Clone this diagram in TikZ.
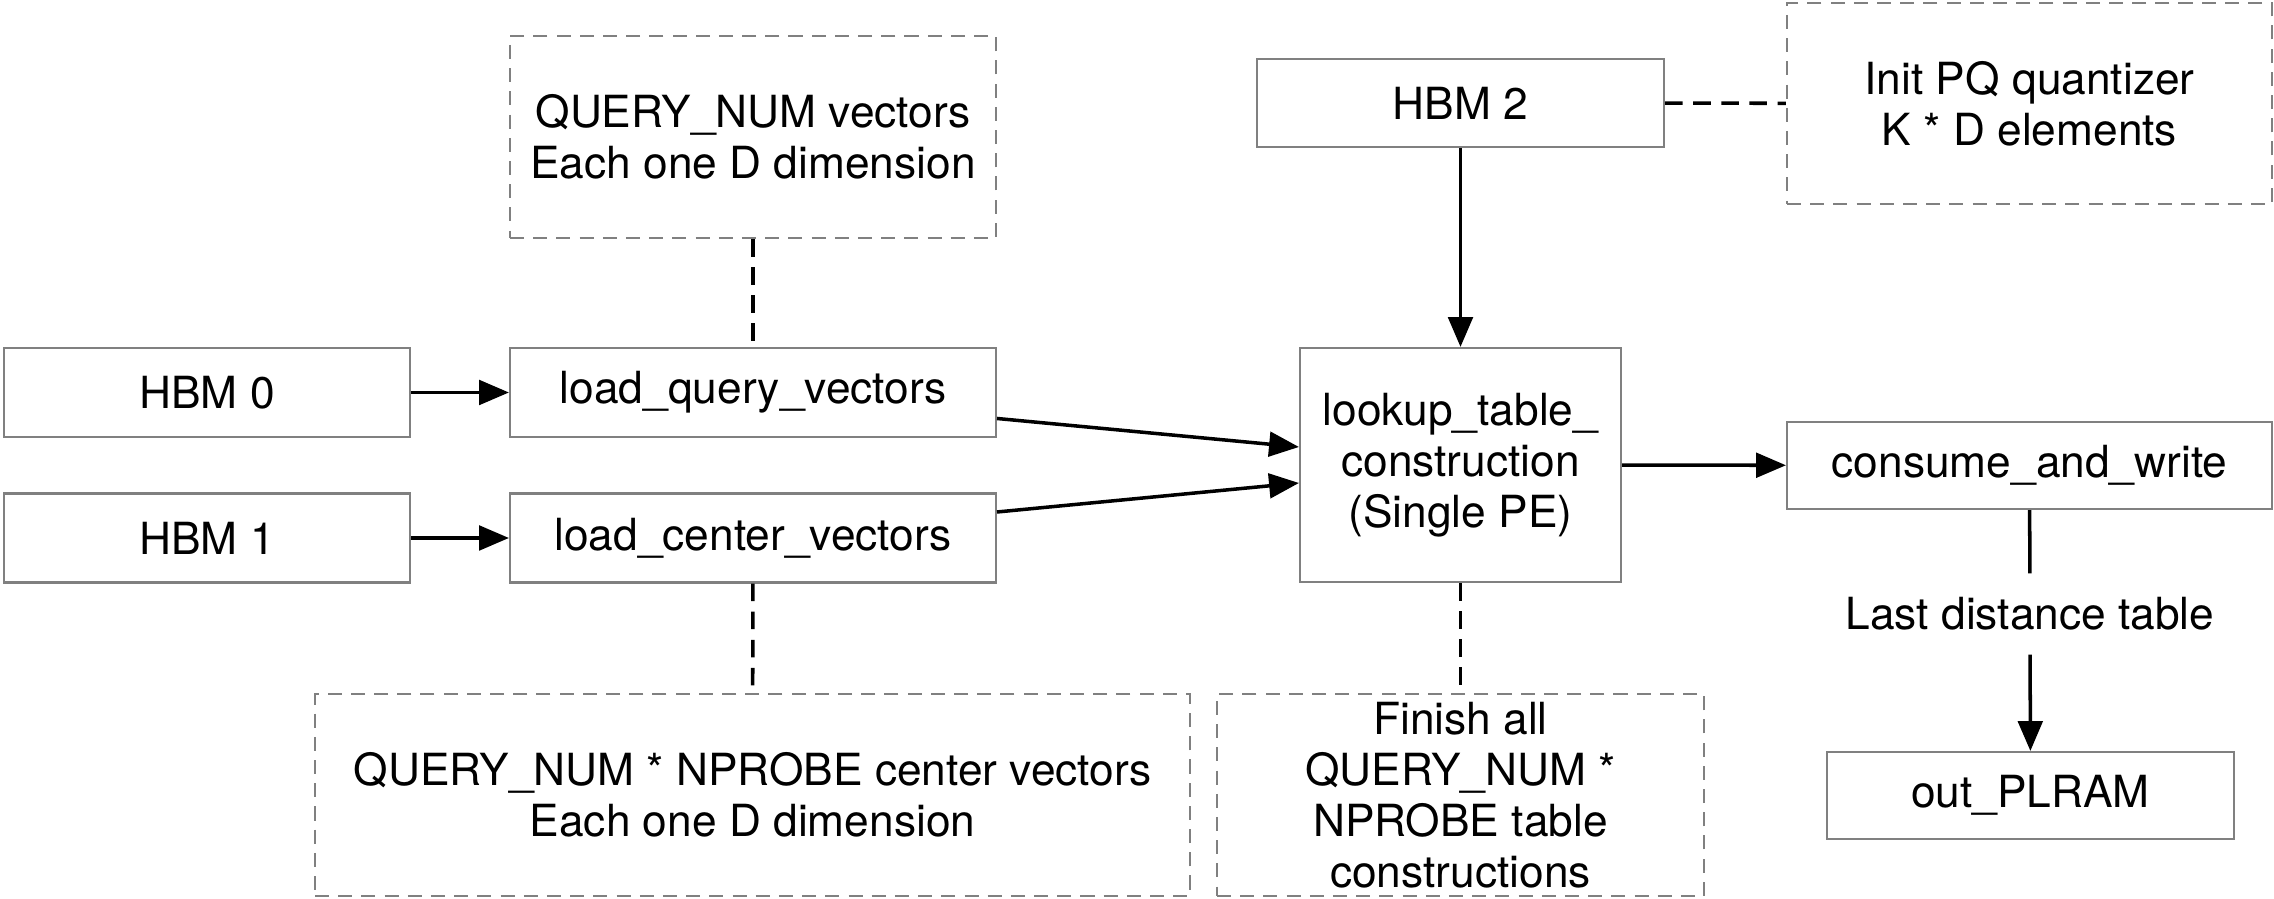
\documentclass[tikz,border=0pt]{standalone}
\usepackage{fontspec}
\setmainfont{TeX Gyre Heros}
\usepackage{tikz}
\usetikzlibrary{shapes,arrows,arrows.meta}

\begin{document}
\begin{tikzpicture}[
  blk/.style={draw=gray, line width=0.6pt, inner sep=0pt, align=center},
  note/.style={draw=gray, line width=0.6pt, dash pattern=on 4pt off 2.6pt, inner sep=0pt, align=center},
  link/.style={line width=1pt, dash pattern=on 5pt off 3pt},
  flow/.style={line width=1pt, -{Triangle[length=8.5pt,width=7pt]}},
  every node/.style={font=\fontsize{12.6}{14.5}\selectfont}
]
\useasboundingbox (0,0) rectangle (22.74,-8.99);
\node[blk, minimum width=4.06cm, minimum height=0.89cm] (hbm0) at (2.07,-3.925) {HBM 0};
\node[blk, minimum width=4.06cm, minimum height=0.89cm] (hbm1) at (2.07,-5.38) {HBM 1};
\node[blk, minimum width=4.86cm, minimum height=0.89cm] (loadq) at (7.53,-3.925) {load\_query\_vectors};
\node[blk, minimum width=4.86cm, minimum height=0.89cm] (loadc) at (7.53,-5.38) {load\_center\_vectors};
\node[note, minimum width=4.86cm, minimum height=2.02cm] (qnote) at (7.53,-1.37) {QUERY\_NUM vectors\\Each one D dimension};
\node[note, minimum width=8.75cm, minimum height=2.02cm] (cnote) at (7.525,-7.95) {QUERY\_NUM * NPROBE center vectors\\Each one D dimension};
\node[blk, minimum width=3.21cm, minimum height=2.34cm] (lut) at (14.605,-4.65) {lookup\_table\_\\construction\\(Single PE)};
\node[note, minimum width=4.87cm, minimum height=2.02cm] (fnote) at (14.605,-7.95) {Finish all\\QUERY\_NUM *\\NPROBE table\\constructions};
\node[blk, minimum width=4.07cm, minimum height=0.88cm] (hbm2) at (14.605,-1.03) {HBM 2};
\node[note, minimum width=4.85cm, minimum height=2.01cm] (pqnote) at (20.295,-1.035) {Init PQ quantizer\\K * D elements};
\node[blk, minimum width=4.85cm, minimum height=0.87cm] (cw) at (20.295,-4.655) {consume\_and\_write};
\node[inner sep=0pt, minimum height=0.8cm] (last) at (20.30,-6.14) {Last distance table};
\node[blk, minimum width=4.07cm, minimum height=0.87cm] (plram) at (20.305,-7.955) {out\_PLRAM};

\draw [flow] (hbm0) -- (loadq);
\draw [flow] (hbm1) -- (loadc);
\draw [flow] ([yshift=-0.26cm]loadq.east) -- ([yshift=0.18cm]lut.west);
\draw [flow] ([yshift=0.26cm]loadc.east) -- ([yshift=-0.18cm]lut.west);
\draw [flow] (hbm2) -- (lut);
\draw [flow] (lut) -- (cw);
\draw [line width=1pt] (cw) -- (last);
\draw [flow] (last) -- (plram);

\draw [link] (qnote) -- (loadq);
\draw [link] (loadc) -- (cnote);
\draw [link] (lut) -- (fnote);
\draw [link] (hbm2) -- (pqnote);
\end{tikzpicture}
\end{document}
